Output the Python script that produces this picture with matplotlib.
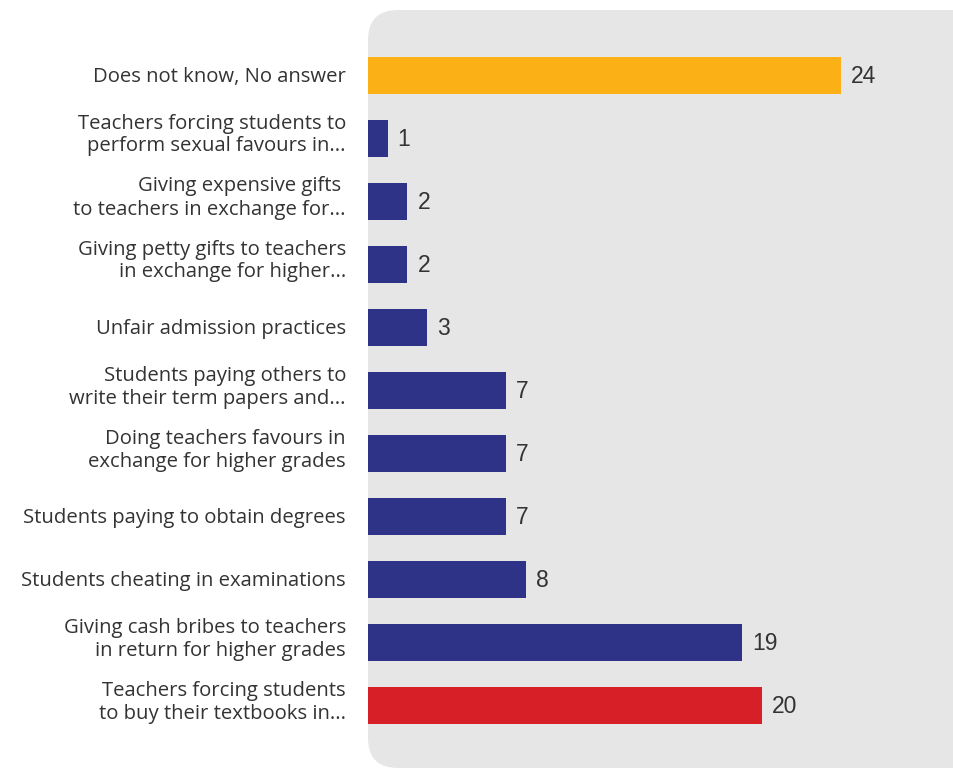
import matplotlib
matplotlib.use("Agg")
import matplotlib.pyplot as plt
from matplotlib.patches import FancyBboxPatch
from matplotlib.transforms import IdentityTransform, ScaledTranslation

# data, top to bottom as shown
labels = [
    "Does not know, No answer",
    "Teachers forcing students to\nperform sexual favours in...",
    "Giving expensive gifts \nto teachers in exchange for...",
    "Giving petty gifts to teachers\nin exchange for higher...",
    "Unfair admission practices",
    "Students paying others to\nwrite their term papers and...",
    "Doing teachers favours in\nexchange for higher grades",
    "Students paying to obtain degrees",
    "Students cheating in examinations",
    "Giving cash bribes to teachers\nin return for higher grades",
    "Teachers forcing students\nto buy their textbooks in...",
]
values = [24, 1, 2, 2, 3, 7, 7, 7, 8, 19, 20]

ORANGE = "#FBB116"
NAVY = "#2E3388"
RED = "#D71F27"
colors = [ORANGE] + [NAVY] * 9 + [RED]

W, H = 954, 770
fig = plt.figure(figsize=(W / 100, H / 100), dpi=100)

# rounded grey panel behind the bars (pixel coordinates)
panel = FancyBboxPatch((368, H - 768), 620, 758,
                       boxstyle="round,pad=0,rounding_size=30",
                       transform=IdentityTransform(), facecolor="#E6E6E6",
                       edgecolor="none", zorder=0)
fig.patches.append(panel)

ax = fig.add_axes([368 / W, (H - 768) / H, (W - 368) / W, 758 / H])
ax.set_zorder(2)
ax.patch.set_visible(False)

px_per_unit = 19.7
ax.set_xlim(0, (W - 368) / px_per_unit)
step = 63
ax.set_ylim((768 - 75) / step, -(75 - 10) / step)

y = list(range(len(values)))
ax.barh(y, values, height=37 / step, color=colors, zorder=2)

# value labels: baseline pushed down by half the cap height
shift = ax.transData + ScaledTranslation(0, -6.0 / 72, fig.dpi_scale_trans)
for yi, v in zip(y, values):
    ax.text(v + 10 / px_per_unit, yi, str(v), va="baseline", ha="left",
            fontsize=16.5, color="#333333", family="Liberation Sans",
            transform=shift)

# category labels drawn as text so two-line ones can sit a bit higher
lab_trans = ax.get_yaxis_transform()
for yi, lab in zip(y, labels):
    up = 3 / 100 if "\n" in lab else -2 / 100
    t = lab_trans + ScaledTranslation(-22 / 100, up, fig.dpi_scale_trans)
    ax.text(0, yi, lab, transform=t, ha="right", va="center",
            multialignment="right", fontsize=14.6, color="#333333",
            family="Open Sans", linespacing=1.2)

ax.set_yticks([])
ax.set_xticks([])
for s in ax.spines.values():
    s.set_visible(False)

fig.savefig("out.png", dpi=100)
